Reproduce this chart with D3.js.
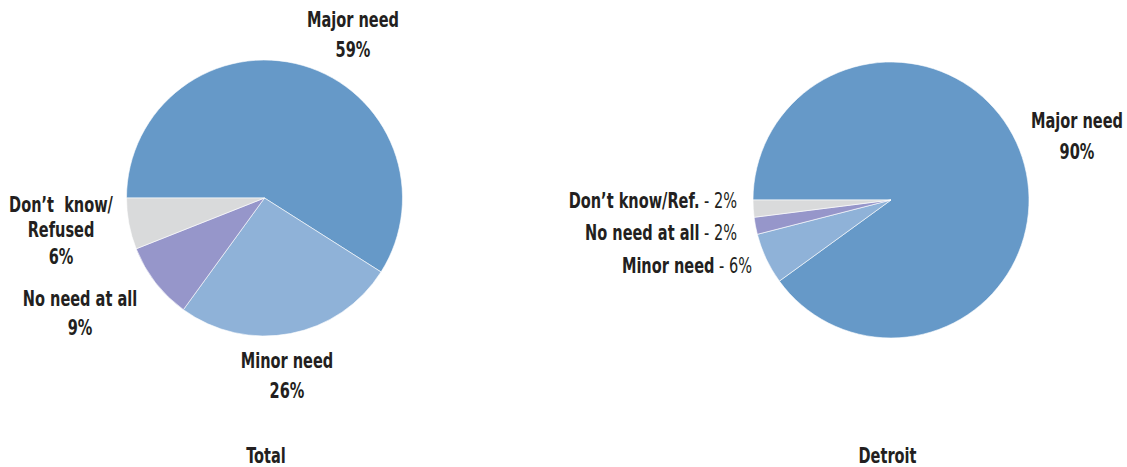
<!DOCTYPE html>
<html>
<head>
<meta charset="utf-8">
<script src="https://cdn.jsdelivr.net/npm/d3@7"></script>
<style>
  html, body { margin: 0; padding: 0; background: #fff; }
  svg { display: block; }
  text { font-family: "DejaVu Sans Condensed", "DejaVu Sans", sans-serif; font-stretch: condensed; fill: #231f20; }
</style>
</head>
<body>
<svg id="chart" width="1127" height="467"></svg>
<script>
const categories = ["Major need", "Minor need", "No need at all", "Don't know/Refused"];
const totalValues = [59, 26, 9, 6];
const detroitValues = [90, 6, 2, 2];
const panelTitles = ["Total", "Detroit"];
const colors = ["#6699c8", "#8fb2d8", "#9696ca", "#d9dadb"];

const svg = d3.select("#chart");
const color = d3.scaleOrdinal().domain(categories).range(colors);
const pie = d3.pie().sort(null).value(d => d.v)
  .startAngle(-Math.PI / 2).endAngle(3 * Math.PI / 2);
const arc = d3.arc().innerRadius(0).outerRadius(138);

function drawPie(values, cx, cy) {
  const data = categories.map((c, i) => ({ c, v: values[i] }));
  const g = svg.append("g").attr("transform", `translate(${cx},${cy})`);
  g.selectAll("path").data(pie(data)).join("path")
    .attr("d", arc)
    .attr("fill", d => color(d.data.c))
    .attr("stroke", "#ffffff")
    .attr("stroke-width", 0.6);
  return data;
}

drawPie(totalValues, 264.5, 198);
drawPie(detroitValues, 891, 200);

const FS = 21;
const SX = 0.77;
function lbl(x, y, parts, anchor) {
  const t = svg.append("text")
    .attr("transform", `translate(${x},${y}) scale(${SX},1)`)
    .attr("text-anchor", anchor || "middle")
    .style("font-size", FS + "px")
    .style("white-space", "pre");
  parts.forEach(p => {
    t.append("tspan").text(p[0]).style("font-weight", p[1] ? "bold" : "normal");
  });
}

// Total panel labels
lbl(353, 27, [[categories[0], true]]);
lbl(353, 57, [[totalValues[0] + "%", true]]);
lbl(287, 368, [[categories[1], true]]);
lbl(287, 398, [[totalValues[1] + "%", true]]);
lbl(80, 306, [[categories[2], true]]);
lbl(80, 335, [[totalValues[2] + "%", true]]);
lbl(61, 212, [["Don\u2019t\u00a0 know/", true]]);
lbl(61, 237, [["Refused", true]]);
lbl(61, 264, [[totalValues[3] + "%", true]]);
lbl(266, 463, [[panelTitles[0], true]]);

// Detroit panel labels
lbl(1077, 128, [[categories[0], true]]);
lbl(1077, 159, [[detroitValues[0] + "%", true]]);
lbl(737, 208, [["Don\u2019t know/Ref.", true], [" - " + detroitValues[3] + "%", false]], "end");
lbl(737, 240, [[categories[2], true], [" - " + detroitValues[2] + "%", false]], "end");
lbl(752, 273, [[categories[1], true], [" - " + detroitValues[1] + "%", false]], "end");
lbl(887.5, 463, [[panelTitles[1], true]]);
</script>
</body>
</html>
